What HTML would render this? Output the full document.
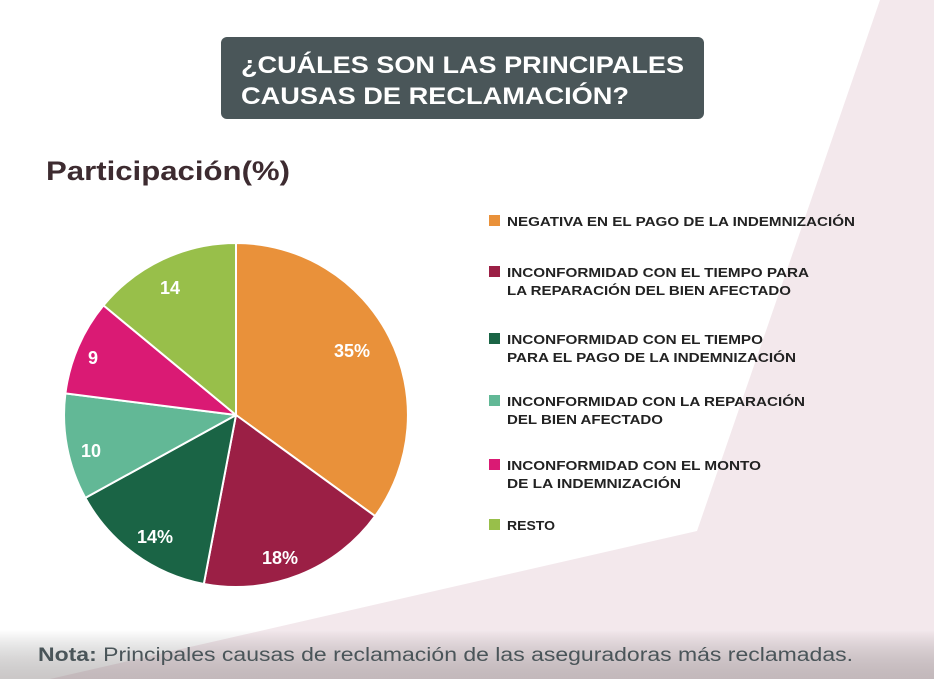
<!DOCTYPE html>
<html><head><meta charset="utf-8"><style>
html,body{margin:0;padding:0;background:#fff;}
svg{display:block;font-family:"Liberation Sans",sans-serif;}
</style></head><body>
<svg width="934" height="679" viewBox="0 0 934 679" xmlns="http://www.w3.org/2000/svg">
<defs>
<linearGradient id="bg" x1="0" y1="0" x2="0" y2="1">
<stop offset="0" stop-color="#000" stop-opacity="0"/>
<stop offset="1" stop-color="#6a6060" stop-opacity="0.35"/>
</linearGradient>
</defs>
<rect width="934" height="679" fill="#fff"/>
<polygon points="880,0 934,0 934,679 50,679 697,531" fill="#f3e8ec"/>
<rect x="0" y="630" width="934" height="49" fill="url(#bg)"/>
<rect x="221" y="37" width="483" height="82" rx="6" fill="#4a5659"/>
<text x="241" y="73" font-size="24" font-weight="bold" fill="#fff" textLength="443" lengthAdjust="spacingAndGlyphs">¿CUÁLES SON LAS PRINCIPALES</text>
<text x="241" y="104" font-size="24" font-weight="bold" fill="#fff" textLength="388" lengthAdjust="spacingAndGlyphs">CAUSAS DE RECLAMACIÓN?</text>
<text x="46" y="180" font-size="27" font-weight="bold" fill="#3d2b30" textLength="244" lengthAdjust="spacingAndGlyphs">Participación(%)</text>
<g stroke="#fff" stroke-width="2" stroke-linejoin="round">
<path d="M236,415 L236,243 A172,172 0 0 1 375.1,516.1 Z" fill="#e9913a"/>
<path d="M236,415 L375.1,516.1 A172,172 0 0 1 203.8,584 Z" fill="#9b1f45"/>
<path d="M236,415 L203.8,584 A172,172 0 0 1 85.3,497.9 Z" fill="#1a6445"/>
<path d="M236,415 L85.3,497.9 A172,172 0 0 1 65.4,393.4 Z" fill="#62b896"/>
<path d="M236,415 L65.4,393.4 A172,172 0 0 1 103.5,305.4 Z" fill="#da1a74"/>
<path d="M236,415 L103.5,305.4 A172,172 0 0 1 236,243 Z" fill="#98bf4a"/>
</g>
<g fill="#fff" font-size="18" font-weight="bold" text-anchor="middle">
<text x="352" y="357">35%</text>
<text x="280" y="564">18%</text>
<text x="155" y="543">14%</text>
<text x="91" y="457">10</text>
<text x="93" y="364">9</text>
<text x="170" y="294">14</text>
</g>
<g font-size="13" font-weight="bold" fill="#222">
<rect x="489" y="215" width="11" height="11" fill="#e9913a"/>
<text x="507" y="226" textLength="348" lengthAdjust="spacingAndGlyphs">NEGATIVA EN EL PAGO DE LA INDEMNIZACIÓN</text>
<rect x="489" y="266" width="11" height="11" fill="#9b1f45"/>
<text x="507" y="277" textLength="302" lengthAdjust="spacingAndGlyphs">INCONFORMIDAD CON EL TIEMPO PARA</text>
<text x="507" y="295" textLength="284" lengthAdjust="spacingAndGlyphs">LA REPARACIÓN DEL BIEN AFECTADO</text>
<rect x="489" y="333" width="11" height="11" fill="#1a6445"/>
<text x="507" y="344" textLength="256" lengthAdjust="spacingAndGlyphs">INCONFORMIDAD CON EL TIEMPO</text>
<text x="507" y="362" textLength="289" lengthAdjust="spacingAndGlyphs">PARA EL PAGO DE LA INDEMNIZACIÓN</text>
<rect x="489" y="395" width="11" height="11" fill="#62b896"/>
<text x="507" y="406" textLength="298" lengthAdjust="spacingAndGlyphs">INCONFORMIDAD CON LA REPARACIÓN</text>
<text x="507" y="424" textLength="156" lengthAdjust="spacingAndGlyphs">DEL BIEN AFECTADO</text>
<rect x="489" y="459" width="11" height="11" fill="#da1a74"/>
<text x="507" y="470" textLength="254" lengthAdjust="spacingAndGlyphs">INCONFORMIDAD CON EL MONTO</text>
<text x="507" y="488" textLength="174" lengthAdjust="spacingAndGlyphs">DE LA INDEMNIZACIÓN</text>
<rect x="489" y="519" width="11" height="11" fill="#98bf4a"/>
<text x="507" y="530" textLength="48" lengthAdjust="spacingAndGlyphs">RESTO</text>
</g>
<text x="38" y="661" font-size="19" fill="#4a5559" textLength="815" lengthAdjust="spacingAndGlyphs"><tspan font-weight="bold">Nota:</tspan> Principales causas de reclamación de las aseguradoras más reclamadas.</text>
</svg>
</body></html>
